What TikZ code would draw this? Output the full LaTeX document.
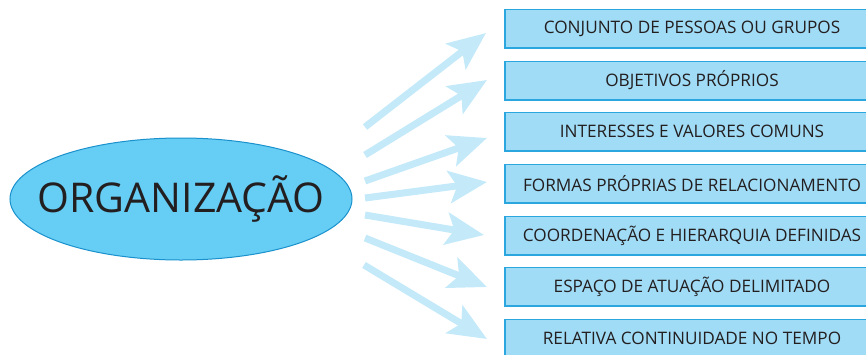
\documentclass[tikz,border=0pt]{standalone}
\usepackage{fontspec}
\setmainfont{Open Sans}
\newfontfamily\boxfont{Open Sans}
\usetikzlibrary{arrows.meta,shapes.geometric}
\definecolor{arrowblue}{HTML}{C4E9F9}
\definecolor{boxfill}{HTML}{A1DCF6}
\definecolor{boxline}{HTML}{2CA6DE}
\definecolor{ellfill}{HTML}{66CDF4}
\definecolor{ellline}{HTML}{1A91CC}
\definecolor{txt}{HTML}{231F20}
\tikzset{
  itembox/.style={draw=boxline, fill=boxfill, line width=1.5pt, minimum width=374pt, minimum height=38.5pt, inner sep=0pt, text=txt, font=\boxfont\fontsize{17.2}{19}\selectfont},
  orgell/.style={ellipse, draw=ellline, fill=ellfill, line width=1pt, minimum width=342pt, minimum height=122pt, inner sep=0pt, text=txt, font=\boxfont\fontsize{41}{44}\selectfont},
  bigarrow/.style={draw=arrowblue, line width=7pt, -{Stealth[length=38pt,width=32pt,inset=8pt,fill=arrowblue]}}
}
\begin{document}
\begin{tikzpicture}[x=1pt,y=-1pt]
\useasboundingbox (0,0) rectangle (866,354);
\clip (0,0) rectangle (866,354);
\node[orgell] (org) at (181,199) {\makebox[0pt]{ORGANIZAÇÃO}};
\node[itembox] (b1) at (692,28.5) {CONJUNTO DE PESSOAS OU GRUPOS};
\node[itembox] (b2) at (692,80.5) {OBJETIVOS PRÓPRIOS};
\node[itembox] (b3) at (692,131.5) {INTERESSES E VALORES COMUNS};
\node[itembox] (b4) at (692,183.5) {FORMAS PRÓPRIAS DE RELACIONAMENTO};
\node[itembox] (b5) at (692,235.5) {COORDENAÇÃO E HIERARQUIA DEFINIDAS};
\node[itembox] (b6) at (692,286.5) {ESPAÇO DE ATUAÇÃO DELIMITADO};
\node[itembox] (b7) at (692,338.5) {RELATIVA CONTINUIDADE NO TEMPO};
\coordinate (t1) at (365,127); \coordinate (h1) at (486,33);
\coordinate (t2) at (365,155); \coordinate (h2) at (487,80);
\coordinate (t3) at (365,181); \coordinate (h3) at (487,138);
\coordinate (t4) at (365,198); \coordinate (h4) at (487,182);
\coordinate (t5) at (365,215); \coordinate (h5) at (484,235);
\coordinate (t6) at (365,238); \coordinate (h6) at (487,287);
\coordinate (t7) at (364,265); \coordinate (h7) at (487,339);
\foreach \i in {1,...,7} { \draw[bigarrow] (t\i) -- (h\i); }
\end{tikzpicture}
\end{document}
